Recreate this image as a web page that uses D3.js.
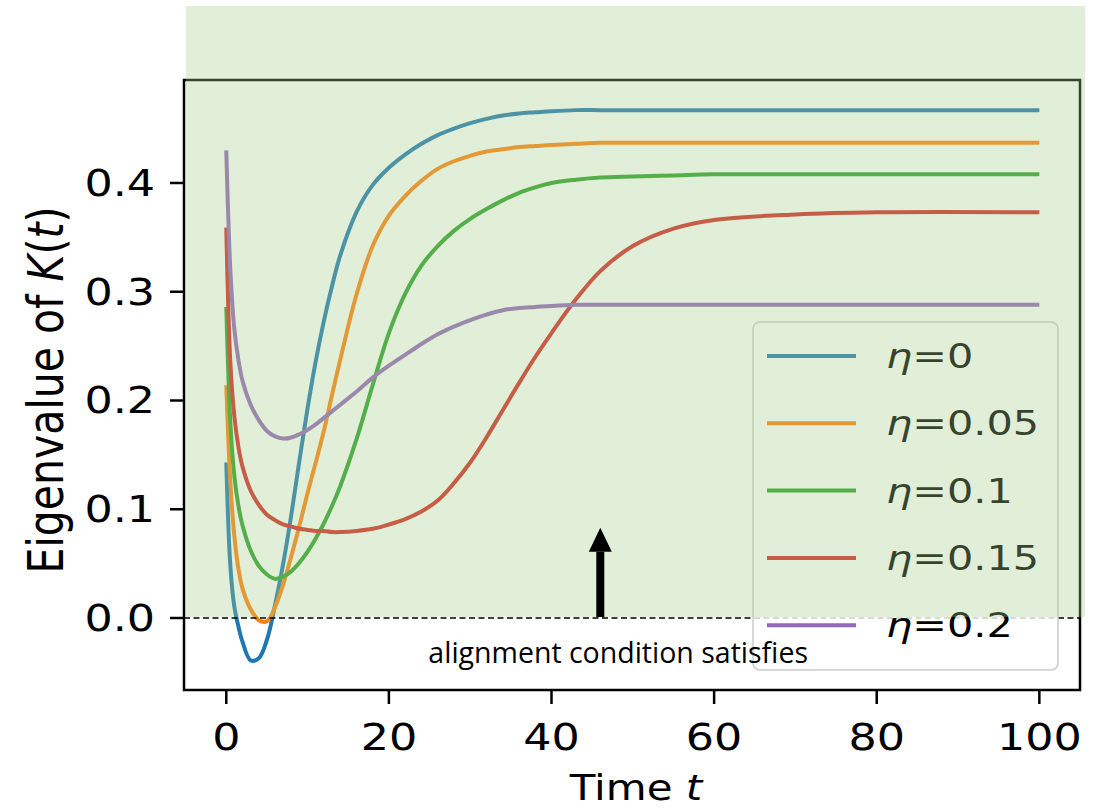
<!DOCTYPE html>
<html>
<head>
<meta charset="utf-8">
<script src="https://cdn.jsdelivr.net/npm/d3@7"></script>
<style>
  body { margin: 0; background: #fff; }
  text { font-family: "DejaVu Sans", sans-serif; }
</style>
</head>
<body>
<svg id="chart" width="1105" height="811"></svg>
<script>
// time samples (shared by every curve)
const timeGrid = [0, 0.5, 1, 1.5, 2, 3, 4, 5, 6, 7, 8, 9, 10, 11, 12, 13, 14, 16, 18, 20,
  22, 24, 26, 28, 30, 32, 34, 36, 38, 40, 43, 46, 50, 55, 60, 70, 80, 100];

// eigenvalue of K(t), one array per eta
const eta0 = [0.143, 0.048, 0.010, -0.008, -0.022, -0.039, -0.037, -0.020, 0.012, 0.050, 0.095, 0.145, 0.193, 0.236,
  0.273, 0.305, 0.333, 0.373, 0.398, 0.414, 0.426, 0.436, 0.444, 0.450, 0.455, 0.459, 0.462, 0.464, 0.465, 0.466,
  0.467, 0.467, 0.467, 0.467, 0.467, 0.467, 0.467, 0.467];
const eta005 = [0.214, 0.125, 0.075, 0.045, 0.027, 0.008, -0.002, -0.003, 0.010, 0.031, 0.057, 0.085, 0.115, 0.143,
  0.172, 0.205, 0.237, 0.297, 0.342, 0.370, 0.388, 0.402, 0.413, 0.420, 0.425, 0.429, 0.431, 0.433, 0.434, 0.435,
  0.436, 0.437, 0.437, 0.437, 0.437, 0.437, 0.437, 0.437];
const eta01 = [0.286, 0.180, 0.130, 0.103, 0.085, 0.062, 0.048, 0.040, 0.036, 0.038, 0.043, 0.051, 0.061, 0.073,
  0.087, 0.103, 0.121, 0.164, 0.214, 0.262, 0.298, 0.324, 0.342, 0.356, 0.367, 0.376, 0.384, 0.391, 0.396, 0.400,
  0.403, 0.405, 0.406, 0.407, 0.408, 0.408, 0.408, 0.408];
const eta015 = [0.359, 0.235, 0.185, 0.157, 0.139, 0.117, 0.104, 0.095, 0.090, 0.086, 0.084, 0.082, 0.081, 0.080,
  0.080, 0.079, 0.079, 0.080, 0.082, 0.086, 0.091, 0.098, 0.108, 0.124, 0.143, 0.166, 0.191, 0.216, 0.240, 0.262,
  0.293, 0.319, 0.342, 0.358, 0.366, 0.371, 0.373, 0.373];
const eta02 = [0.430, 0.320, 0.265, 0.237, 0.218, 0.196, 0.182, 0.172, 0.167, 0.165, 0.166, 0.169, 0.173, 0.178,
  0.184, 0.190, 0.196, 0.208, 0.221, 0.232, 0.242, 0.252, 0.261, 0.268, 0.274, 0.279, 0.283, 0.285, 0.286, 0.287,
  0.288, 0.288, 0.288, 0.288, 0.288, 0.288, 0.288, 0.288];

const seriesValues = [eta0, eta005, eta01, eta015, eta02];
const seriesLabels = ["0", "0.05", "0.1", "0.15", "0.2"];
const seriesColors = ["#1f77b4", "#ff7f0e", "#2ca02c", "#d62728", "#9467bd"];

const xTicks = [0, 20, 40, 60, 80, 100];
const yTicks = [0.0, 0.1, 0.2, 0.3, 0.4];

// annotation (data units)
const arrowT = 46, arrowTip = 0.083;
const noteText = "alignment condition satisfies";
const noteT = 48.2, noteV = -0.041;

const svg = d3.select("#chart");
const plotL = 184, plotR = 1080, plotT = 80, plotB = 690;
const stretch = 1.2; // the picture is a bit wider than tall

const x = d3.scaleLinear().domain([-5.2, 105]).range([plotL, plotR]);
const y = d3.scaleLinear().domain([-0.0662, 0.4947]).range([plotB, plotT]);

// axes and ticks
const gx = svg.append("g");
gx.selectAll("line").data(xTicks).enter().append("line")
    .attr("x1", d => x(d)).attr("x2", d => x(d))
    .attr("y1", plotB).attr("y2", plotB + 14)
    .attr("stroke", "#000").attr("stroke-width", 2.5);
gx.selectAll("text").data(xTicks).enter().append("text")
    .attr("transform", d => `translate(${x(d)},${plotB + 60}) scale(${stretch},1)`)
    .attr("text-anchor", "middle")
    .attr("font-size", 37)
    .text(d => d);

const gy = svg.append("g");
gy.selectAll("line").data(yTicks).enter().append("line")
    .attr("x1", plotL - 14).attr("x2", plotL)
    .attr("y1", d => y(d)).attr("y2", d => y(d))
    .attr("stroke", "#000").attr("stroke-width", 2.5);
gy.selectAll("text").data(yTicks).enter().append("text")
    .attr("transform", d => `translate(${plotL - 29},${y(d) + 13}) scale(${stretch},1)`)
    .attr("text-anchor", "end")
    .attr("font-size", 37)
    .text(d => d3.format(".1f")(d));

// axis labels
const xl = svg.append("text")
    .attr("transform", `translate(${(plotL + plotR) / 2 + 4},800) scale(${stretch},1)`)
    .attr("text-anchor", "middle").attr("font-size", 35);
xl.append("tspan").text("Time ");
xl.append("tspan").attr("font-style", "italic").text("t");

const yl = svg.append("text")
    .attr("transform", `translate(63,390) scale(${stretch},1) rotate(-90)`)
    .attr("text-anchor", "middle").attr("font-size", 41);
yl.append("tspan").text("Eigenvalue of ");
yl.append("tspan").attr("font-style", "italic").text("K");
yl.append("tspan").text("(");
yl.append("tspan").attr("font-style", "italic").text("t");
yl.append("tspan").text(")");

// curves
const line = d3.line()
    .x((d, i) => x(timeGrid[i]))
    .y(d => y(d))
    .curve(d3.curveCatmullRom.alpha(0.5));

svg.append("g").selectAll("path").data(seriesValues).enter().append("path")
    .attr("d", d => line(d))
    .attr("fill", "none")
    .attr("stroke", (d, i) => seriesColors[i])
    .attr("stroke-width", 4)
    .attr("stroke-linecap", "butt");

// zero line
svg.append("line")
    .attr("x1", plotL).attr("x2", plotR)
    .attr("y1", y(0)).attr("y2", y(0))
    .attr("stroke", "#000").attr("stroke-width", 1.6)
    .attr("stroke-dasharray", "6,3.5");

// frame
svg.append("rect")
    .attr("x", plotL).attr("y", plotT)
    .attr("width", plotR - plotL).attr("height", plotB - plotT)
    .attr("fill", "none").attr("stroke", "#000").attr("stroke-width", 2.5);

// legend
const legX = 753, legY = 322, legW = 305, legH = 348, row0 = 356, rowStep = 67.3;
const leg = svg.append("g");
leg.append("rect")
    .attr("x", legX).attr("y", legY).attr("width", legW).attr("height", legH)
    .attr("rx", 7)
    .attr("fill", "#fff").attr("fill-opacity", 0.8)
    .attr("stroke", "#cccccc").attr("stroke-width", 1.5);
const items = leg.selectAll("g.item").data(seriesLabels).enter().append("g")
    .attr("class", "item")
    .attr("transform", (d, i) => `translate(0,${row0 + i * rowStep})`);
items.append("line")
    .attr("x1", 767).attr("x2", 856)
    .attr("stroke", (d, i) => seriesColors[i]).attr("stroke-width", 4);
const lt = items.append("text")
    .attr("transform", `translate(886,12) scale(${stretch},1)`)
    .attr("font-size", 34.5);
lt.append("tspan").attr("font-style", "italic").text("η");
lt.append("tspan").text(d => "=" + d);

// green highlight pasted over the plot
svg.append("rect")
    .attr("x", 186).attr("y", 6)
    .attr("width", 899).attr("height", y(0) - 7)
    .attr("fill", "rgb(166,206,138)").attr("fill-opacity", 0.33);

// arrow + note
const ax = x(arrowT);
svg.append("rect")
    .attr("x", ax - 4).attr("width", 8)
    .attr("y", y(arrowTip) + 24).attr("height", y(0) - 1 - (y(arrowTip) + 24))
    .attr("fill", "#000");
svg.append("path")
    .attr("d", `M${ax - 11.5},${y(arrowTip) + 24} L${ax},${y(arrowTip)} L${ax + 11.5},${y(arrowTip) + 24} Z`)
    .attr("fill", "#000");
svg.append("text")
    .attr("x", x(noteT)).attr("y", y(noteV))
    .attr("text-anchor", "middle")
    .style("font-family", "'Open Sans', sans-serif")
    .attr("font-size", 28.5)
    .text(noteText);
</script>
</body>
</html>
